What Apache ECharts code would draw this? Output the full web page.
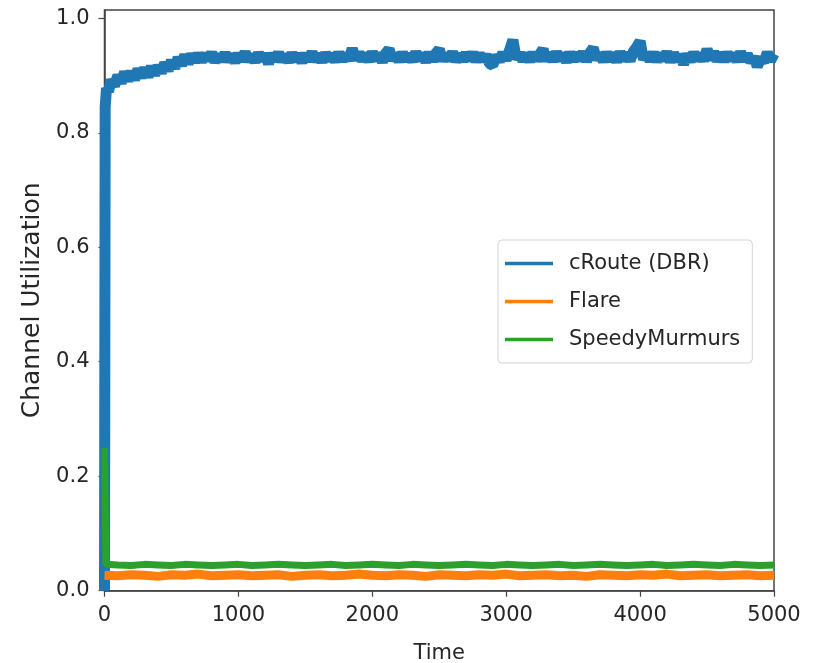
<!DOCTYPE html>
<html>
<head>
<meta charset="utf-8">
<script src="https://cdn.jsdelivr.net/npm/echarts@6/dist/echarts.min.js"></script>
<style>
html,body{margin:0;padding:0;background:#fff;}
#chart{width:828px;height:663px;}
</style>
</head>
<body>
<div id="chart"></div>
<script>
// ---- data ----
const seriesNames = ['cRoute (DBR)', 'Flare', 'SpeedyMurmurs'];
const yTickValues = [0, 0.2, 0.4, 0.6, 0.8, 1.0];

// cRoute (DBR): early ramp-up samples (noisy band, upper/lower readings)
const blueEarlyTimes = [0, 5, 15, 30, 50, 75, 100, 125, 150, 175, 200, 225, 250, 275, 300, 325, 350, 375,
  400, 425, 450, 475, 500, 525, 550, 575, 600, 625, 650, 675];
const blueEarlyValues = [0.0, 0.845, 0.878, 0.872, 0.892, 0.882, 0.9, 0.887, 0.906, 0.891, 0.907, 0.893,
  0.911, 0.897, 0.913, 0.898, 0.916, 0.901, 0.917, 0.905, 0.922, 0.909, 0.926, 0.913, 0.931, 0.918, 0.936,
  0.921, 0.937, 0.924];
// cRoute (DBR): steady part, one reading every 25 time units from 700 to 5000
const blueSteadyStart = 700, blueSteadyStep = 25;
const blueSteadyValues = [
  0.938, 0.925, 0.937, 0.927, 0.940, 0.924, 0.936, 0.926,
  0.939, 0.925, 0.937, 0.923, 0.938, 0.926, 0.941, 0.925,
  0.936, 0.924, 0.939, 0.927, 0.937, 0.921, 0.938, 0.926,
  0.940, 0.925, 0.936, 0.924, 0.939, 0.926, 0.937, 0.923,
  0.938, 0.926, 0.941, 0.925, 0.937, 0.924, 0.939, 0.927,
  0.937, 0.925, 0.940, 0.926, 0.938, 0.927, 0.947, 0.928,
  0.940, 0.926, 0.938, 0.925, 0.941, 0.927, 0.938, 0.924,
  0.939, 0.946, 0.927, 0.938, 0.925, 0.940, 0.926, 0.937,
  0.925, 0.941, 0.927, 0.938, 0.924, 0.940, 0.926, 0.939,
  0.946, 0.926, 0.938, 0.927, 0.941, 0.925, 0.937, 0.926,
  0.939, 0.927, 0.940, 0.925, 0.938, 0.926, 0.936, 0.921,
  0.918, 0.935, 0.925, 0.940, 0.927, 0.944, 0.962, 0.929,
  0.939, 0.926, 0.938, 0.925, 0.940, 0.927, 0.937, 0.946,
  0.926, 0.939, 0.925, 0.941, 0.927, 0.938, 0.924, 0.940,
  0.926, 0.939, 0.927, 0.941, 0.925, 0.940, 0.948, 0.928,
  0.938, 0.925, 0.940, 0.926, 0.939, 0.924, 0.941, 0.927,
  0.939, 0.926, 0.942, 0.950, 0.960, 0.928, 0.939, 0.926,
  0.940, 0.925, 0.938, 0.927, 0.941, 0.924, 0.939, 0.926,
  0.936, 0.920, 0.937, 0.925, 0.940, 0.927, 0.938, 0.926,
  0.946, 0.928, 0.941, 0.926, 0.939, 0.925, 0.940, 0.927,
  0.938, 0.925, 0.941, 0.926, 0.937, 0.924, 0.932, 0.916,
  0.930, 0.924, 0.940, 0.926, 0.938];

const flatTimes = [0, 10, 100, 200, 300, 400, 500, 600, 700, 800, 900, 1000, 1100, 1200, 1300, 1400, 1500,
  1600, 1700, 1800, 1900, 2000, 2100, 2200, 2300, 2400, 2500, 2600, 2700, 2800, 2900, 3000, 3100, 3200,
  3300, 3400, 3500, 3600, 3700, 3800, 3900, 4000, 4100, 4200, 4300, 4400, 4500, 4600, 4700, 4800, 4900, 5000];
const orangeValues = [0.027, 0.028, 0.026, 0.028, 0.027, 0.025, 0.028, 0.027, 0.029, 0.026, 0.027, 0.028, 0.026,
  0.027, 0.028, 0.025, 0.027, 0.028, 0.026, 0.027, 0.029, 0.027, 0.026, 0.028, 0.027, 0.025, 0.028, 0.027, 0.026,
  0.028, 0.027, 0.029, 0.026, 0.027, 0.028, 0.026, 0.027, 0.025, 0.028, 0.027, 0.026, 0.028, 0.027, 0.029, 0.026,
  0.027, 0.028, 0.026, 0.027, 0.028, 0.026, 0.027];
const greenValues = [0.25, 0.046, 0.045, 0.044, 0.046, 0.045, 0.044, 0.046, 0.045, 0.044, 0.045, 0.046, 0.044,
  0.045, 0.046, 0.045, 0.044, 0.045, 0.046, 0.044, 0.045, 0.046, 0.045, 0.044, 0.046, 0.045, 0.044, 0.045, 0.046,
  0.045, 0.044, 0.046, 0.045, 0.044, 0.045, 0.046, 0.044, 0.045, 0.046, 0.045, 0.044, 0.045, 0.046, 0.044, 0.045,
  0.046, 0.045, 0.044, 0.046, 0.045, 0.044, 0.045];

// ---- chart ----
const pairs = (xs, ys) => xs.map((x, i) => [x, ys[i]]);
const blueData = pairs(blueEarlyTimes, blueEarlyValues)
  .concat(blueSteadyValues.map((v, i) => [blueSteadyStart + i * blueSteadyStep, v]));
const axisColor = '#444';
const textColor = '#262626';
const font = 'DejaVu Sans';

const chart = echarts.init(document.getElementById('chart'), null, {renderer: 'canvas'});
chart.setOption({
  animation: false,
  backgroundColor: '#fff',
  grid: {
    left: 104.5, right: 54, top: 10, bottom: 72.3,
    containLabel: false, outerBoundsMode: 'none',
    show: true, borderColor: axisColor, borderWidth: 1.5, backgroundColor: 'transparent'
  },
  legend: {
    orient: 'vertical', left: 498, top: 240,
    data: seriesNames,
    icon: 'rect', itemWidth: 48, itemHeight: 3.5, itemGap: 17,
    borderColor: '#d4d4d4', borderWidth: 1, borderRadius: 4,
    padding: [13, 12, 13, 7],
    backgroundColor: '#fff',
    textStyle: {fontFamily: font, fontSize: 21, color: textColor, lineHeight: 21, padding: [0, 0, 0, 11]}
  },
  xAxis: {
    type: 'value', min: 0, max: 5000, interval: 1000,
    name: 'Time', nameLocation: 'middle', nameGap: 52,
    nameTextStyle: {fontFamily: font, fontSize: 21, color: textColor},
    axisLine: {show: true, onZero: false, lineStyle: {color: axisColor, width: 1.5}},
    axisTick: {show: true, inside: false, length: 6, lineStyle: {color: axisColor, width: 1.2}},
    axisLabel: {fontFamily: font, fontSize: 21, color: textColor, margin: 14, formatter: v => String(v)},
    splitLine: {show: false}
  },
  yAxis: {
    type: 'value', min: 0, max: 1.0145,
    name: 'Channel Utilization', nameLocation: 'middle', nameGap: 56,
    nameTextStyle: {fontFamily: font, fontSize: 25, color: textColor},
    axisLine: {show: true, onZero: false, lineStyle: {color: axisColor, width: 1.5}},
    axisTick: {show: true, inside: false, length: 6, customValues: yTickValues, lineStyle: {color: axisColor, width: 1.2}},
    axisLabel: {fontFamily: font, fontSize: 21, color: textColor, margin: 15, customValues: yTickValues,
      formatter: v => v.toFixed(1)},
    splitLine: {show: false}
  },
  series: [
    {name: seriesNames[0], type: 'line', data: blueData, showSymbol: false,
      color: '#1f77b4', lineStyle: {width: 11, color: '#1f77b4'}, sampling: null, z: 2},
    {name: seriesNames[1], type: 'line', data: pairs(flatTimes, orangeValues), showSymbol: false,
      color: '#ff7f0e', lineStyle: {width: 9, color: '#ff7f0e'}, z: 3},
    {name: seriesNames[2], type: 'line', data: pairs(flatTimes, greenValues), showSymbol: false,
      color: '#2ca02c', lineStyle: {width: 7, color: '#2ca02c'}, z: 4}
  ]
});
</script>
</body>
</html>
